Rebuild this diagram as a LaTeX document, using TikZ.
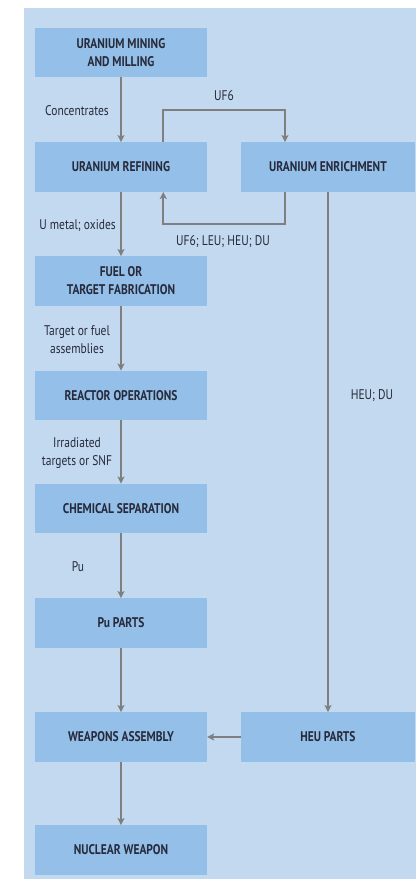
\documentclass[tikz,border=0pt]{standalone}
\usepackage{fontspec}
\setmainfont{PT Sans}[FakeStretch=0.82]
\usetikzlibrary{arrows.meta}
\definecolor{bgblue}{HTML}{C3D9F0}
\definecolor{boxblue}{HTML}{94BFE9}
\definecolor{arrgray}{HTML}{7F7F7F}
\definecolor{txt}{HTML}{262A3A}
\tikzset{
  stage/.style={fill=boxblue, draw=none, minimum width=172pt, minimum height=49.5pt,
    align=center, text=txt, font=\fontsize{14}{18}\selectfont\bfseries, inner sep=0pt},
  stager/.style={stage, minimum width=174pt},
  lbl/.style={text=txt, font=\fontsize{14}{18}\selectfont, align=center, inner sep=0pt},
  arr/.style={draw=arrgray, line width=1.7pt, -{Stealth[length=7pt,width=7pt,inset=1.5pt]}},
  ln/.style={draw=arrgray, line width=1.7pt}
}
\begin{document}
\begin{tikzpicture}[x=1pt,y=-1pt]
\useasboundingbox (0,0) rectangle (416,881);
\fill[bgblue] (24,8) rectangle (416,879);
% boxes
\node[stage] (mining) at (121,52.5) {URANIUM MINING\\AND MILLING};
\node[stage] (refining) at (121,167) {URANIUM REFINING};
\node[stager] (enrich) at (328,167) {URANIUM ENRICHMENT};
\node[stage] (fuel) at (121,281) {FUEL OR\\TARGET FABRICATION};
\node[stage] (reactor) at (121,395.5) {REACTOR OPERATIONS};
\node[stage] (chem) at (121,508.5) {CHEMICAL SEPARATION};
\node[stage] (pu) at (121,623) {Pu PARTS};
\node[stage] (weapons) at (121,737) {WEAPONS ASSEMBLY};
\node[stager] (heu) at (328,737) {HEU PARTS};
\node[stage] (nuclear) at (121,850) {NUCLEAR WEAPON};
% vertical chain
\draw[arr] (mining) -- (refining);
\draw[arr] (refining) -- (fuel);
\draw[arr] (fuel) -- (reactor);
\draw[arr] (reactor) -- (chem);
\draw[arr] (chem) -- (pu);
\draw[arr] (pu) -- (weapons);
\draw[arr] (weapons) -- (nuclear);
% UF6 loop
\coordinate (ltop) at (163.3,110);
\coordinate (rtop) at (285,110);
\coordinate (lbot) at (163.3,224);
\coordinate (rbot) at (285,224);
\draw[arr] (refining.north -| ltop) -- (ltop) -- (rtop) -- (enrich.north -| rtop);
\draw[arr] (enrich.south -| rbot) -- (rbot) -- (lbot) -- (refining.south -| lbot);
% enrichment to HEU parts
\draw[arr] (enrich) -- (heu);
\draw[arr] (heu) -- (weapons);
% labels
\node[lbl] (l1) at (77,111) {Concentrates};
\node[lbl] (l2) at (224,95.5) {UF6};
\node[lbl] (l3) at (77.5,225.5) {U metal; oxides};
\node[lbl] (l4) at (223,242) {UF6; LEU; HEU; DU};
\node[lbl] (l5) at (77,339.5) {Target or fuel\\assemblies};
\node[lbl] (l6) at (372,396) {HEU; DU};
\node[lbl] (l7) at (77,453.5) {Irradiated\\targets or SNF};
\node[lbl] (l8) at (78,566.5) {Pu};
\end{tikzpicture}
\end{document}
